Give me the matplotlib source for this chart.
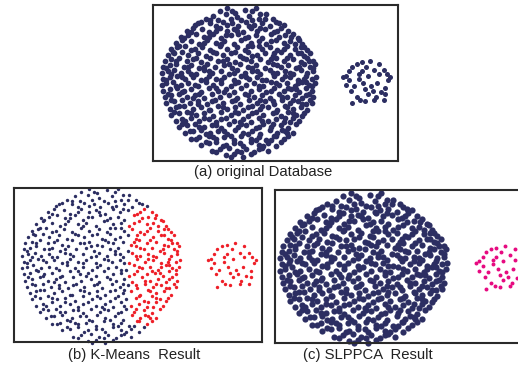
import matplotlib
matplotlib.use("Agg")
import matplotlib.pyplot as plt

# Big cluster, left part (blue in every panel), coordinates in circle units (0..100, y downwards)
big_left = [
    (37,3),(42,1),(47,4),(53,2),(58,3),(63,5),
    (28,8),(33,6),(36,9),(41,5),(48,7),(51,9),(56,6),(62,8),(67,5),(71,8),
    (21,12),(25,10),(31,11),(35,13),(39,10),(45,11),(49,13),(54,10),(59,12),(64,11),(69,13),(73,10),(78,12),
    (16,16),(20,14),(26,15),(30,17),(37,14),(42,16),(46,15),(52,17),(57,14),(61,16),(66,15),
    (12,20),(17,19),(22,18),(27,20),(33,18),(38,21),(44,19),(49,18),(55,20),(60,19),(64,21),
    (9,24),(13,22),(19,23),(24,25),(29,22),(35,24),(40,23),(46,25),(51,22),(57,24),(62,23),
    (6,28),(10,27),(15,26),(21,28),(26,27),(31,29),(37,26),(42,28),(48,27),(53,29),(58,26),(64,28),
    (4,32),(8,31),(13,30),(17,32),(23,31),(28,33),(33,30),(39,32),(44,31),(50,33),(55,30),(61,32),(66,31),
    (2,36),(6,35),(11,34),(16,36),(20,35),(25,37),(31,34),(36,36),(42,35),(47,37),(52,34),(57,36),(63,35),
    (1,40),(5,39),(9,38),(14,40),(19,39),(24,41),(29,38),(34,40),(40,39),(45,41),(50,38),(55,40),(60,39),(66,41),
    (0,44),(4,43),(8,42),(12,44),(17,43),(22,45),(27,42),(32,44),(38,43),(43,45),(48,42),(53,44),(58,43),(63,45),
    (1,48),(5,47),(10,46),(15,48),(20,47),(25,49),(30,46),(35,48),(40,47),(46,49),(51,46),(56,48),(61,47),
    (0,52),(3,51),(7,50),(12,52),(17,51),(23,53),(28,50),(33,52),(38,51),(44,53),(49,50),(54,52),(59,51),(65,53),
    (1,56),(5,55),(10,54),(14,56),(19,55),(25,57),(30,54),(36,56),(41,55),(46,57),(51,54),(57,56),(62,55),
    (2,60),(6,59),(11,58),(16,60),(21,59),(27,61),(32,58),(37,60),(43,59),(48,61),(53,58),(59,60),(64,59),
    (3,64),(8,63),(13,62),(18,64),(23,63),(29,65),(34,62),(39,64),(45,63),(50,65),(56,62),(61,64),(66,63),
    (5,68),(9,67),(14,66),(20,68),(25,67),(31,69),(36,66),(42,68),(47,67),(52,69),(58,66),(63,68),
    (6,72),(11,71),(16,70),(22,72),(27,71),(33,73),(38,70),(44,72),(49,71),(55,73),(60,70),(65,72),
    (9,76),(13,75),(19,74),(24,76),(30,75),(35,77),(41,74),(46,76),(52,75),(57,77),(62,74),
    (11,80),(16,79),(21,78),(27,80),(32,79),(38,81),(43,78),(49,80),(54,79),(60,81),(65,78),
    (15,84),(20,83),(25,82),(31,84),(36,83),(42,85),(47,82),(52,84),(58,83),(63,85),
    (19,88),(24,87),(30,86),(35,88),(40,87),(46,89),(51,86),(57,88),(62,87),(67,89),
    (25,92),(30,91),(35,90),(41,92),(46,91),(52,93),(57,90),(62,92),(68,91),(73,93),(76,90),
    (32,96),(37,95),(43,94),(48,96),(54,95),(59,97),(64,94),(68,96),
    (41,99),(46,98),(52,100),(57,98),
    (45,3),(60,1),(31,9),(44,8),(58,9),(66,8),(23,11),(42,12),(56,13),(75,11),
    (19,17),(35,16),(48,16),(63,14),(14,21),(30,20),(41,19),(53,21),(11,26),(27,24),
    (38,25),(55,26),(62,26),(7,30),(19,29),(35,31),(47,30),(58,33),(9,36),(22,34),
    (39,36),(54,35),(3,41),(17,40),(27,40),(43,38),(58,41),(6,45),(19,45),(30,43),
    (46,44),(61,43),(3,49),(13,47),(28,48),(38,49),(54,47),(64,49),(9,53),(21,52),
    (35,54),(47,51),(62,53),(4,58),(13,57),(24,58),(40,57),(55,59),(6,62),(20,61),
    (32,63),(47,62),(63,62),(11,66),(23,65),(39,67),(55,67),(64,66),(8,70),(19,71),
    (30,69),(47,70),(58,71),(15,76),(27,74),(38,75),(50,77),(64,76),(13,78),(24,80),
    (35,79),(51,78),(62,80),(18,83),(28,85),(40,83),(55,85),(22,88),(33,87),(44,86),
    (60,89),(28,90),(39,93),(50,91),(65,93),(70,89),(35,97),(51,97),(62,95),(44,100),
]

# Big cluster, right part (put in the second cluster by K-Means)
big_right = [
    (72,17),(76,14),(81,16),
    (70,18),(75,20),(79,19),(84,18),(87,21),
    (67,25),(73,22),(78,24),(82,23),(88,22),(90,25),
    (69,27),(74,29),(80,26),(85,28),(89,27),(93,29),
    (71,33),(76,30),(82,32),(87,31),(91,33),(95,31),
    (68,37),(73,34),(78,36),(84,35),(89,37),(93,34),(97,36),
    (71,38),(76,40),(81,39),(86,41),(91,38),(95,40),(98,38),
    (69,42),(74,44),(79,43),(84,45),(89,42),(93,44),(97,43),
    (67,49),(72,46),(77,48),(82,47),(87,49),(92,46),(96,48),(99,47),
    (70,50),(75,52),(80,51),(85,53),(90,50),(94,52),(98,51),
    (67,57),(72,54),(78,56),(83,55),(88,57),(92,54),(96,56),
    (69,61),(75,58),(80,60),(85,59),(90,61),(94,58),(97,60),
    (72,65),(77,62),(82,64),(87,63),(92,65),(95,62),
    (68,67),(74,69),(79,66),(84,68),(89,67),(93,69),
    (71,71),(76,73),(81,70),(86,72),(91,71),
    (68,76),(73,75),(78,77),(84,74),(88,76),
    (70,80),(76,79),(81,81),(86,78),
    (69,82),(74,84),(79,83),(84,84),
    (73,86),(78,88),(81,86),
    (74,16),(83,20),(70,23),(85,25),(91,27),(78,28),(72,31),(89,31),(80,34),(94,36),
    (70,35),(74,39),(88,40),(97,41),(82,44),(71,44),(91,48),(79,46),(87,51),(73,51),
    (96,53),(92,50),(81,54),(70,56),(86,55),(77,60),(92,59),(71,63),(84,62),(96,64),
    (80,67),(90,65),(73,70),(84,71),(79,74),(90,73),(71,78),(82,77),(77,82),(72,86),
    (80,84),
]

# Small cluster
small = [
    (118,46),(120,43),(122,40),(125,38),(126,48),(123,53),(121,56),(125,60),
    (127,62),(130,63),(129,51),(132,46),(133,36),(139,38),(142,42),(144,45),
    (145,49),(143,54),(140,57),(137,60),(135,56),(138,51),(134,53),(130,55),
    (128,43),(131,40),(120,49),(116,47),(146,47),(142,62),(122,64),(136,62),
    (126,45),(132,58),(139,45),(118,52),(143,58),(128,37),(136,42),
]

captions = ["(a) original Database", "(b) K-Means  Result", "(c) SLPPCA  Result"]

navy = "#2c2e62"
red = "#ee1f28"
magenta = "#e60a80"

W, H = 518, 369
fig = plt.figure(figsize=(W / 100, H / 100), dpi=100)


def add_axes(x0, y0, x1, y1):
    return fig.add_axes([x0 / W, 1 - y1 / H, (x1 - x0) / W, (y1 - y0) / H])


def style(ax, xlim, ylim, right=True):
    ax.set_xlim(*xlim)
    ax.set_ylim(*ylim)
    ax.set_xticks([])
    ax.set_yticks([])
    for name, sp in ax.spines.items():
        sp.set_linewidth(1.5)
        sp.set_color("#2a2a2a")
    if not right:
        ax.spines["right"].set_visible(False)


def xy(pts):
    return [p[0] for p in pts], [p[1] for p in pts]


bl = xy(big_left)
br = xy(big_right)
sm = xy(small)

# (a)
ax = add_axes(153, 5, 398, 161)
style(ax, (-5.6, 151.2), (102.7, -1.3))
ax.scatter(*bl, s=17, c=navy, linewidths=0, clip_on=False)
ax.scatter(*br, s=17, c=navy, linewidths=0, clip_on=False)
ax.scatter(*sm, s=13, c=navy, linewidths=0, clip_on=False)

# (b)
ax = add_axes(14, 188, 262, 342)
style(ax, (-5.0, 150.0), (99.4, 0.6))
ax.scatter(*bl, s=6, c=navy, linewidths=0, clip_on=False)
ax.scatter(*br, s=6, c=red, linewidths=0, clip_on=False)
ax.scatter(*sm, s=6, c=red, linewidths=0, clip_on=False)

# (c)
ax = add_axes(275, 190, 520, 343)
style(ax, (-3.0, 142.0), (100.0, -1.3), right=False)
ax.scatter(*bl, s=20, c=navy, linewidths=0, clip_on=False)
ax.scatter(*br, s=20, c=navy, linewidths=0, clip_on=False)
ax.scatter(*sm, s=8, c=magenta, linewidths=0, clip_on=False)

font = dict(family=["Liberation Sans", "DejaVu Sans"], fontsize=10.7, color="#222222",
            ha="center", va="center")
fig.text(263 / W, 1 - 172 / H, captions[0], **font)
fig.text(134 / W, 1 - 355 / H, captions[1], **font)
fig.text(368 / W, 1 - 355 / H, captions[2], **font)

fig.savefig("out.png", dpi=100)
